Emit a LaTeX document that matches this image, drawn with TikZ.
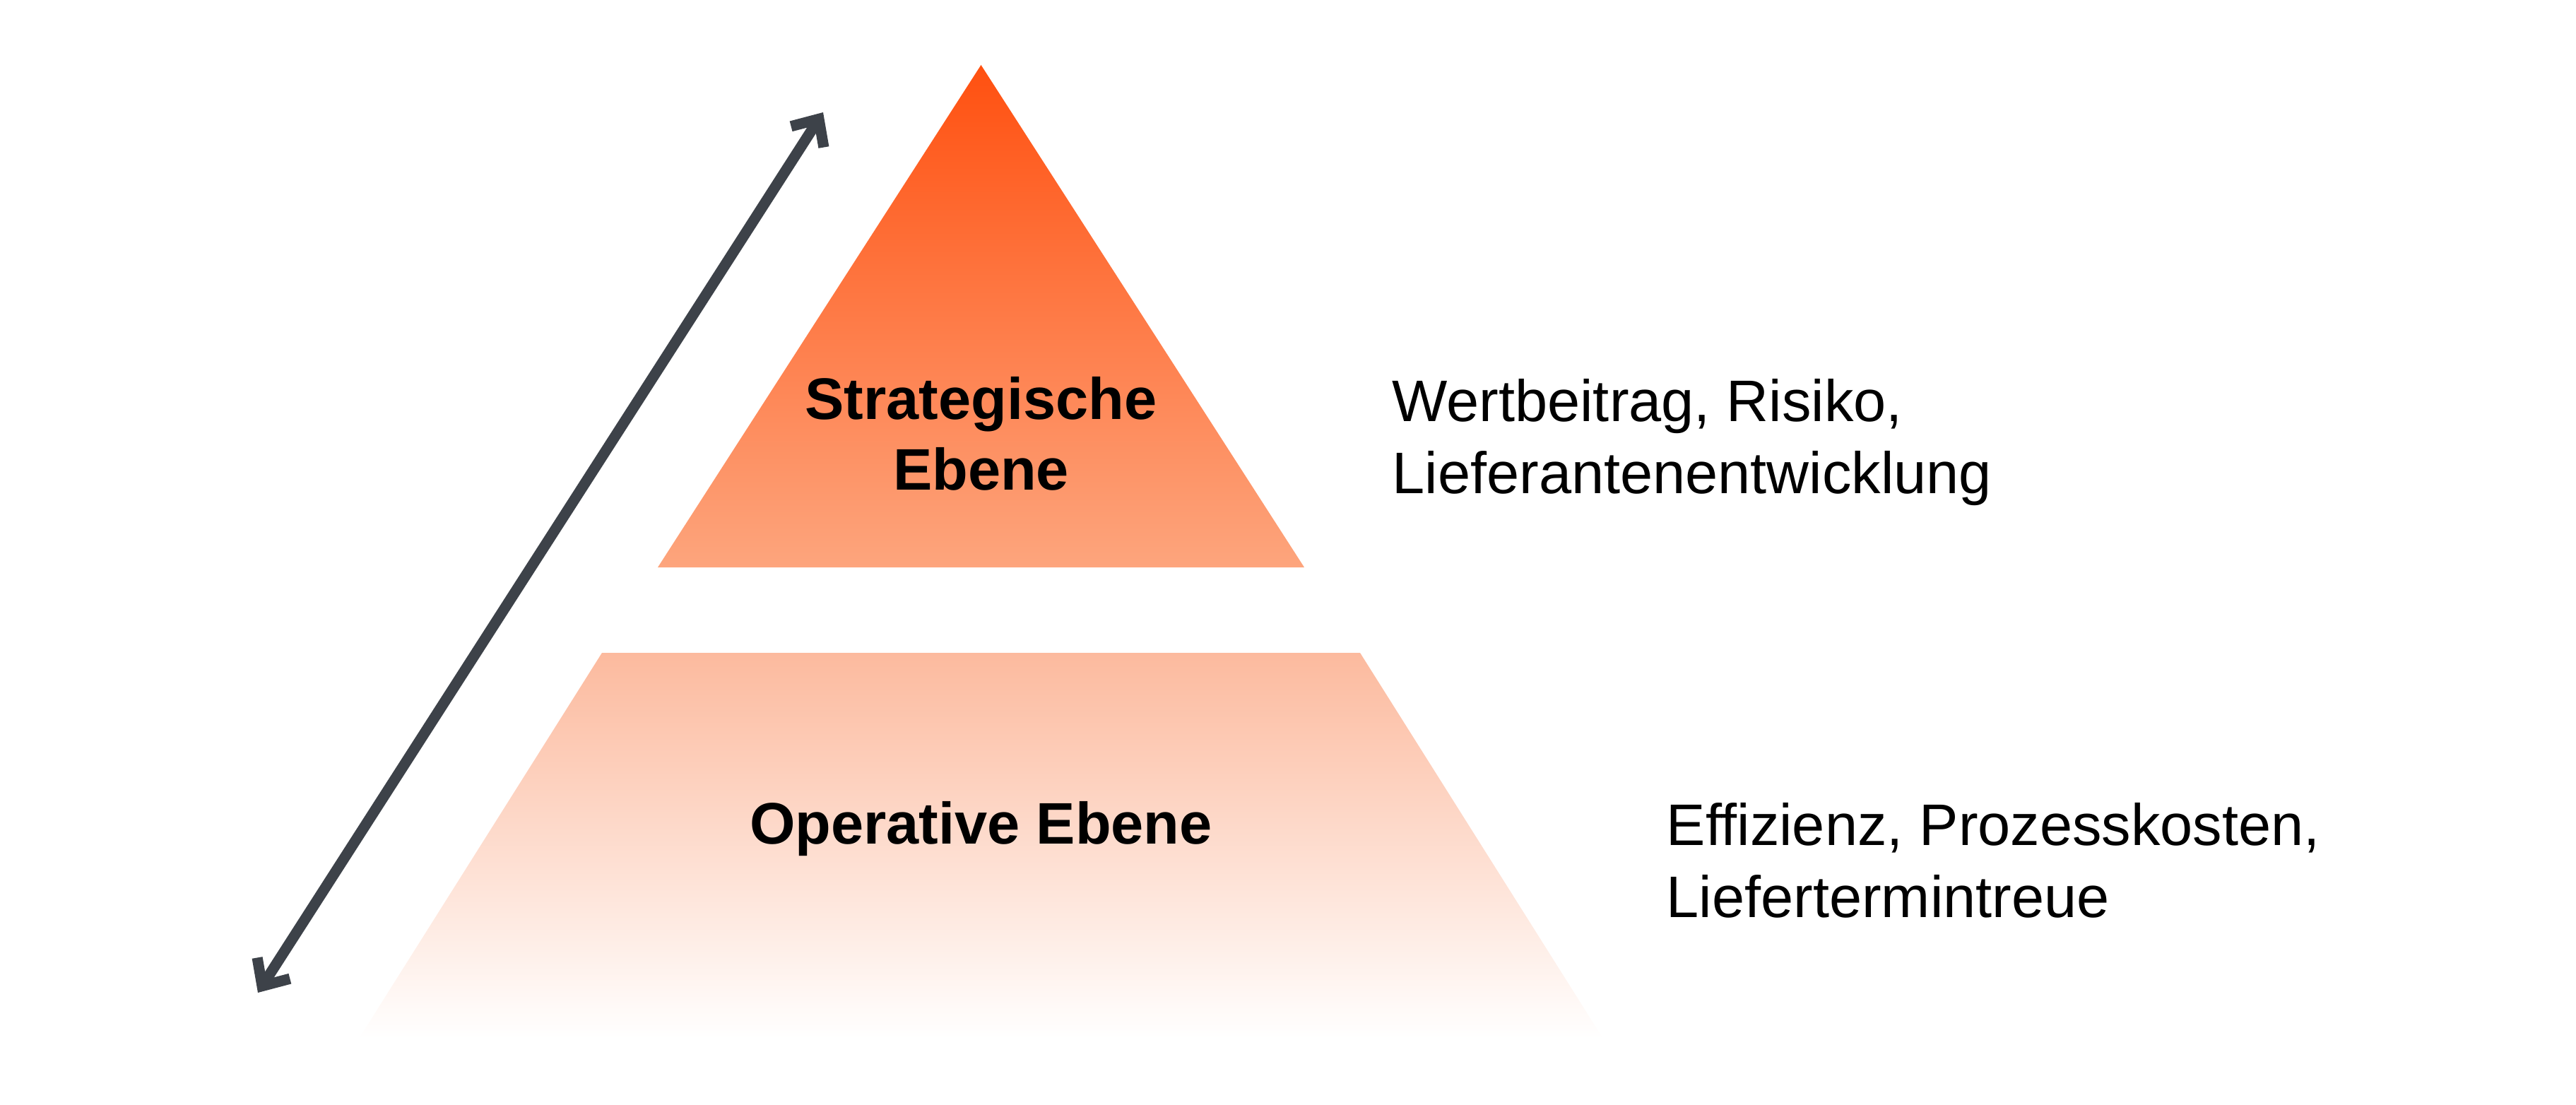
\documentclass[tikz,border=0pt]{standalone}
\usepackage{fontspec}
\setmainfont{Liberation Sans}
\usetikzlibrary{arrows.meta,positioning}
\definecolor{tipcolor}{RGB}{255,80,16}
\definecolor{midcolor}{RGB}{253,165,125}
\definecolor{lowcolor}{RGB}{252,186,158}
\definecolor{arrowgray}{RGB}{61,66,73}
\tikzset
{
    toplayer/.style  = {top color=tipcolor, bottom color=midcolor, draw=none},
    baselayer/.style = {top color=lowcolor, bottom color=white, draw=none},
    layername/.style = {font=\fontsize{23.6}{28.5}\selectfont\bfseries, align=center, inner sep=0},
    layernote/.style = {font=\fontsize{23.6}{29}\selectfont, align=left, anchor=west, inner sep=0},
    spanarrow/.style = {draw=arrowgray, line width=4.3pt, {Straight Barb[length=0.3cm, width=0.55cm, line cap=butt, line join=miter]}-{Straight Barb[length=0.3cm, width=0.55cm, line cap=butt, line join=miter]}}
}

\begin{document}
\begin{tikzpicture}
\useasboundingbox (0,0) rectangle (36.46,15.63);
\coordinate (apex) at (13.885,14.71);
\coordinate (tl) at (9.31,7.60);
\coordinate (tr) at (18.46,7.60);
\coordinate (bl) at (8.52,6.39);
\coordinate (br) at (19.25,6.39);
\coordinate (fl) at (5.08,0.93);
\coordinate (fr) at (22.69,0.93);
\coordinate (low) at (3.65,1.58);
\coordinate (high) at (11.65,14.04);
\path[toplayer] (apex) -- (tr) -- (tl) -- cycle;
\path[baselayer] (bl) -- (br) -- (fr) -- (fl) -- cycle;
\draw[spanarrow] (low) -- (high);
\node[layername] (strat) at (13.885,9.49) {Strategische\\Ebene};
\node[layername, anchor=base] (oper) at (13.885,3.69) {Operative Ebene};
\node[layernote] (stratnote) at (19.70,9.365) {Wertbeitrag, Risiko,\\Lieferantenentwicklung};
\node[layernote] (opernote) at (23.58,3.45) {Effizienz, Prozesskosten,\\Liefertermintreue};
\end{tikzpicture}
\end{document}
